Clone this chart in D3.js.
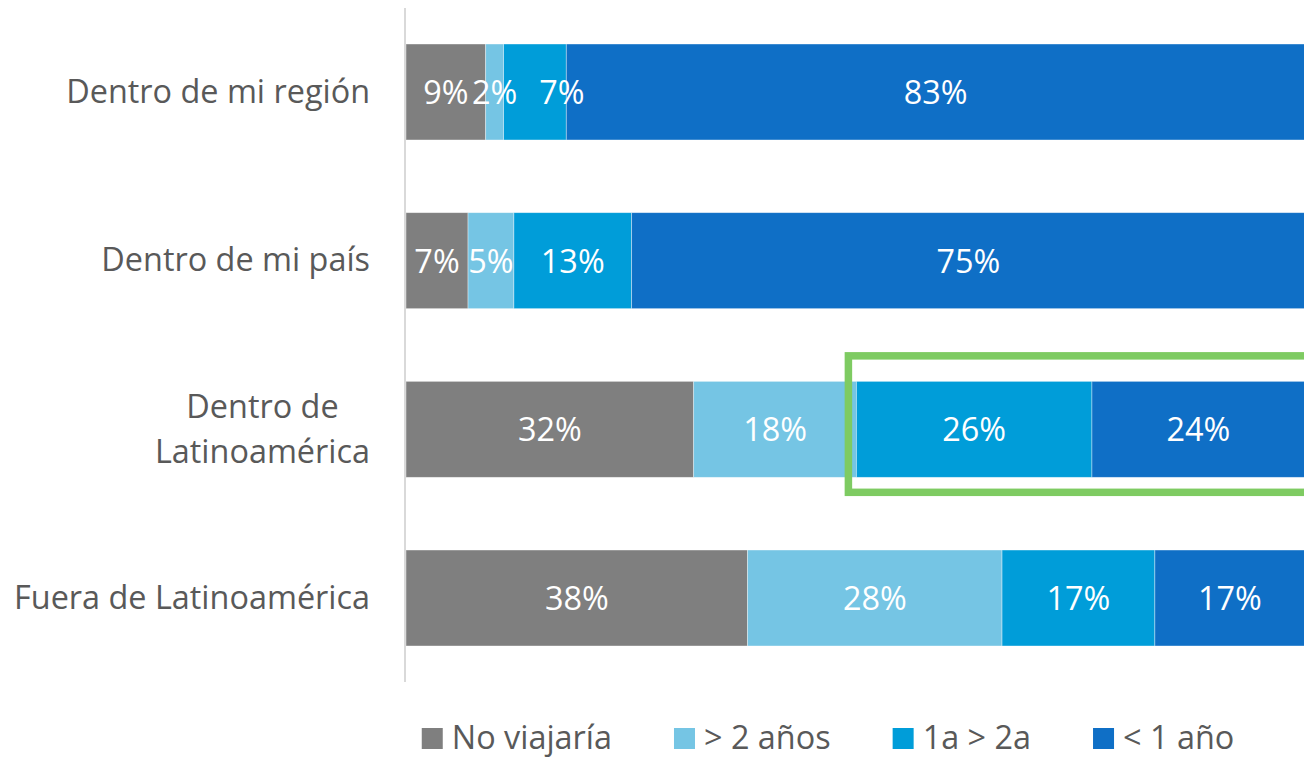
<!DOCTYPE html>
<html>
<head>
<meta charset="utf-8">
<script src="https://cdn.jsdelivr.net/npm/d3@7"></script>
<style>
  body { margin: 0; background: #fff; }
  text { font-family: "Open Sans", Lato, sans-serif; }
</style>
</head>
<body>
<div id="chart"></div>
<script>
// Datos
const categories = ["Dentro de mi región", "Dentro de mi país", "Dentro de\nLatinoamérica", "Fuera de Latinoamérica"];
const series = ["No viajaría", "> 2 años", "1a > 2a", "< 1 año"];
const noViajaria = [8.9, 6.9, 32.0, 38.0];
const masDe2 = [2.0, 5.1, 18.1, 28.3];
const de1a2 = [7.0, 13.1, 26.2, 17.0];
const menosDe1 = [82.5, 74.9, 23.7, 16.7];
const colors = ["#7f7f7f", "#75c5e4", "#009dd9", "#0f6fc6"];
const highlightRow = 2;      // fila resaltada (Dentro de Latinoamérica)
const highlightFrom = 2;     // desde la serie "1a > 2a"

const W = 1304, H = 757;
const x0 = 406, x1 = 1305;
const fontSize = "32.4px";

const rows = categories.map((c, i) => ({
    cat: c,
    "No viajaría": noViajaria[i],
    "> 2 años": masDe2[i],
    "1a > 2a": de1a2[i],
    "< 1 año": menosDe1[i]
}));

const stacked = d3.stack().keys(series).offset(d3.stackOffsetExpand)(rows);

const svg = d3.select("#chart").append("svg")
    .attr("width", W)
    .attr("height", H);

const xScale = d3.scaleLinear().domain([0, 1]).range([x0, x1]);
const yScale = d3.scaleBand()
    .domain(categories)
    .range([8, 682])
    .paddingInner(0.431)
    .paddingOuter(0.2135);

const color = d3.scaleOrdinal().domain(series).range(colors);

// Barras
const layers = svg.append("g").selectAll("g")
    .data(stacked)
    .enter().append("g")
    .attr("fill", d => color(d.key));

layers.selectAll("rect")
    .data(d => d)
    .enter().append("rect")
    .attr("x", d => xScale(d[0]))
    .attr("y", d => yScale(d.data.cat))
    .attr("width", d => xScale(d[1]) - xScale(d[0]))
    .attr("height", yScale.bandwidth())
    .attr("stroke", "#fff")
    .attr("stroke-opacity", 0.5)
    .attr("stroke-width", 0.75);

// Etiquetas de valores
const labelsG = svg.append("g");
stacked.forEach(layer => {
    layer.forEach(p => {
        labelsG.append("text")
            .attr("x", (xScale(p[0]) + xScale(p[1])) / 2)
            .attr("y", yScale(p.data.cat) + yScale.bandwidth() / 2)
            .attr("dy", "0.37em")
            .attr("text-anchor", "middle")
            .attr("fill", "#fff")
            .style("font-size", fontSize)
            .text(Math.round(p.data[layer.key]) + "%");
    });
});

// evitar que las etiquetas de una misma fila se encimen (desplazar a la derecha)
categories.forEach(c => {
    const ts = labelsG.selectAll("text").nodes()
        .filter(n => +n.getAttribute("y") === yScale(c) + yScale.bandwidth() / 2)
        .sort((a, b) => a.getAttribute("x") - b.getAttribute("x"));
    let prevRight = -Infinity;
    ts.forEach((n, i) => {
        const w = n.getComputedTextLength();
        let cx = +n.getAttribute("x");
        // las dos primeras pueden tocarse; a partir de ahí se deja un hueco
        const gap = i <= 1 ? -2 : 22;
        if (cx - w / 2 < prevRight + gap) {
            cx = prevRight + gap + w / 2;
            n.setAttribute("x", cx);
        }
        prevRight = cx + w / 2;
    });
});

// Eje vertical
svg.append("line")
    .attr("x1", 405).attr("x2", 405)
    .attr("y1", yScale.range()[0]).attr("y2", yScale.range()[1])
    .attr("stroke", "#d9d9d9")
    .attr("stroke-width", 2);

// Etiquetas de categorías
const catG = svg.append("g");
categories.forEach(c => {
    const lines = c.split("\n");
    const cy = yScale(c) + yScale.bandwidth() / 2;
    const lh = 45;
    const t = catG.append("text")
        .attr("fill", "#595959")
        .style("font-size", fontSize);
    lines.forEach((l, i) => {
        t.append("tspan")
            .attr("y", cy + (i - (lines.length - 1) / 2) * lh)
            .attr("dy", "0.33em")
            .text(l);
    });
    const maxW = d3.max(t.selectAll("tspan").nodes(), n => n.getComputedTextLength());
    t.attr("text-anchor", "middle");
    t.selectAll("tspan").attr("x", 370 - maxW / 2);
});

// Recuadro verde de resaltado
const hl = stacked[highlightFrom][highlightRow];
svg.append("rect")
    .attr("x", xScale(hl[0]) - 8)
    .attr("y", yScale(categories[highlightRow]) - 25.5)
    .attr("width", W + 20 - (xScale(hl[0]) - 8))
    .attr("height", yScale.bandwidth() + 40.5)
    .attr("fill", "none")
    .attr("stroke", "#7ecb62")
    .attr("stroke-width", 7.5);

// Leyenda
const legend = svg.append("g");
let lx = 0;
series.forEach(s => {
    const g = legend.append("g").attr("transform", `translate(${lx},0)`);
    g.append("rect")
        .attr("x", 0).attr("y", 728)
        .attr("width", 21).attr("height", 21)
        .attr("fill", color(s));
    const t = g.append("text")
        .attr("x", 30).attr("y", 749)
        .attr("fill", "#595959")
        .style("font-size", fontSize)
        .text(s);
    lx += 30 + t.node().getComputedTextLength() + 62;
});
const totalW = lx - 62;
legend.attr("transform", `translate(${828 - totalW / 2},0)`);
</script>
</body>
</html>
